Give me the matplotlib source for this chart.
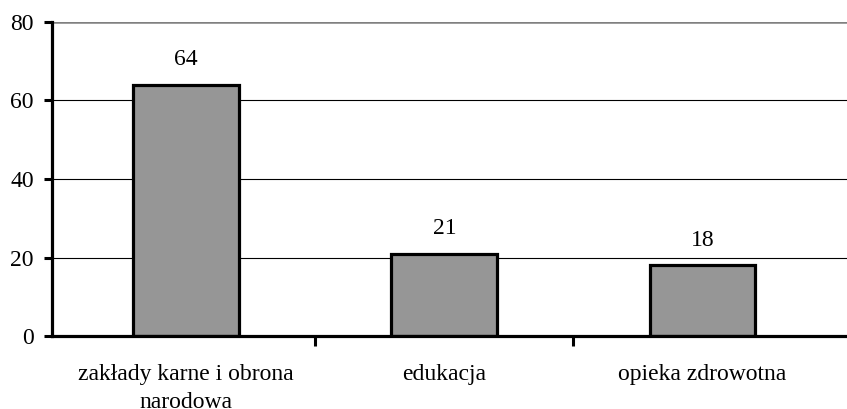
import matplotlib
matplotlib.use("Agg")
import matplotlib.pyplot as plt
from matplotlib.ticker import FixedLocator

categories = ["zakłady karne i obrona\nnarodowa", "edukacja", "opieka zdrowotna"]
values = [64, 21, 18]
y_ticks = [0, 20, 40, 60, 80]

plt.rcParams["font.family"] = ["Liberation Serif", "DejaVu Serif"]

W, H, DPI = 847, 409, 100
fig = plt.figure(figsize=(W / DPI, H / DPI), dpi=DPI)
ax = fig.add_axes([52 / W, (H - 336) / H, (W - 52) / W, 314 / H])

x = list(range(len(categories)))
ax.bar(x, values, width=0.41, color="#969696", edgecolor="black",
       linewidth=2.3, zorder=3)

for xi, v in zip(x, values):
    ax.text(xi, v + 3.7, f"{v}", ha="center", va="bottom", fontsize=17)

ax.set_xlim(-0.52, 2.56)
ax.set_ylim(0, 80)

# horizontal gridlines
for yv in y_ticks[1:-1]:
    ax.axhline(yv, color="black", linewidth=0.8, zorder=1)
ax.axhline(80, color="#808080", linewidth=1.8, zorder=1)

ax.set_yticks(y_ticks)
ax.set_yticklabels([str(t) for t in y_ticks], fontsize=17)
ax.tick_params(axis="y", length=6, width=2.2, pad=7, direction="out")

ax.set_xticks(x)
ax.set_xticklabels(categories, fontsize=17, linespacing=1.45)
ax.tick_params(axis="x", which="major", length=0, pad=20)
ax.xaxis.set_minor_locator(FixedLocator([0.5, 1.5]))
ax.tick_params(axis="x", which="minor", length=7, width=2.2, direction="out")

for side in ("top", "right"):
    ax.spines[side].set_visible(False)
for side in ("left", "bottom"):
    ax.spines[side].set_linewidth(2.3)
    ax.spines[side].set_zorder(4)

fig.savefig("out.png", dpi=DPI)
